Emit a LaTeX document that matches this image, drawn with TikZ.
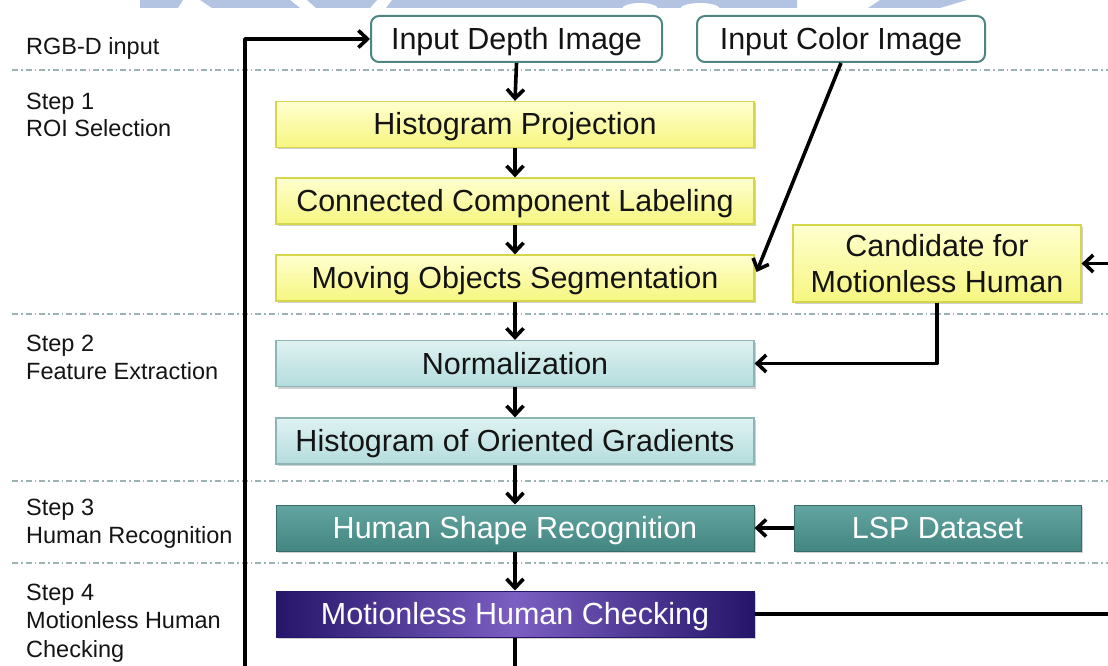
\documentclass[tikz,border=0pt]{standalone}
\usepackage{fontspec}
\setmainfont{Liberation Sans}
\usetikzlibrary{arrows.meta,shadows}

\definecolor{inborder}{HTML}{4E8583}
\definecolor{yelTop}{HTML}{FFFFD0}
\definecolor{yelBot}{HTML}{F6F680}
\definecolor{yelBorder}{HTML}{D6D64C}
\definecolor{cyTop}{HTML}{DFF2F2}
\definecolor{cyBot}{HTML}{B4DCDC}
\definecolor{cyBorder}{HTML}{8DB5B8}
\definecolor{tlTop}{HTML}{63A6A1}
\definecolor{tlBot}{HTML}{438580}
\definecolor{tlBorder}{HTML}{3A6A67}
\definecolor{puDark}{HTML}{25156A}
\definecolor{puLight}{HTML}{7B5FC2}
\definecolor{sepline}{HTML}{9CB2B4}
\definecolor{wmark}{HTML}{B3C3E2}
\definecolor{txt}{HTML}{141414}

\begin{document}
\begin{tikzpicture}[x=1pt,y=-1pt,
  every node/.style={inner sep=0pt},
  lab/.style={anchor=base west, font=\fontsize{23.5}{28}\selectfont, text=txt},
  oneline/.style={text height=24pt, text depth=3pt},
  boxbase/.style={minimum height=46pt, font=\fontsize{30.5}{36.5}\selectfont,
    drop shadow={shadow xshift=1.5pt, shadow yshift=-2pt, opacity=.3, fill=black!60}},
  inbox/.style={draw=inborder, line width=2pt, rounded corners=8pt, fill=white, oneline,
    minimum height=46pt, font=\fontsize{30.5}{36.5}\selectfont, text=txt},
  yelbox/.style={boxbase, draw=yelBorder, line width=1.2pt, top color=yelTop, bottom color=yelBot, text=txt},
  cybox/.style={boxbase, oneline, draw=cyBorder, line width=1.2pt, top color=cyTop, bottom color=cyBot, text=txt},
  tlbox/.style={boxbase, oneline, draw=tlBorder, line width=1pt, top color=tlTop, bottom color=tlBot, text=white},
  pubox/.style={boxbase, oneline, draw=puDark, line width=1pt, left color=puDark, right color=puDark, middle color=puLight, text=white},
  sep/.style={sepline, line width=1.2pt, dash pattern=on 6pt off 3pt on 1.5pt off 3pt},
  arr/.style={line width=3.6pt, black, line join=round,
    -{Straight Barb[length=9pt, width=17pt, line width=3.6pt]}}
]
\useasboundingbox (0,0) rectangle (1108,666);
\fill[white] (0,0) rectangle (1108,666);

% faint band along the top edge
\fill[wmark] (140,0) -- (183,0) -- (178,8) -- (140,8) -- cycle;
\fill[wmark] (200,0) -- (290,0) -- (300,8) -- (212,8) -- cycle;
\fill[wmark] (307,0) -- (377,0) -- (370,8) -- (316,8) -- cycle;
\fill[wmark] (392,0) -- (797,0) -- (797,8) -- (386,8) -- cycle;
\fill[white] (640,9) ellipse (18pt and 6pt);
\fill[white] (700,9) ellipse (20pt and 6pt);
\fill[wmark] (880,0) -- (967,0) -- (940,8) -- (868,8) -- cycle;

% stage separators
\foreach \yy in {70,314,481,563}
  \draw[sep] (12,\yy) -- (1108,\yy);

% stage labels
\node[lab] (l0)  at (26,54.5)  {RGB-D input};
\node[lab] (l1a) at (26,109.5) {Step 1};
\node[lab] (l1b) at (26,137)   {ROI Selection};
\node[lab] (l2a) at (26,351.5) {Step 2};
\node[lab] (l2b) at (26,379.5) {Feature Extraction};
\node[lab] (l3a) at (26,515)   {Step 3};
\node[lab] (l3b) at (26,543)   {Human Recognition};
\node[lab] (l4a) at (26,600)   {Step 4};
\node[lab] (l4b) at (26,628.5) {Motionless Human};
\node[lab] (l4c) at (26,657.5) {Checking};

% inputs
\node[inbox, minimum width=291pt] (depth) at (516.5,39) {Input Depth Image};
\node[inbox, minimum width=288pt] (color) at (841,39)   {Input Color Image};

% processing chain
\node[yelbox, oneline, minimum width=478pt] (hist) at (515,124.5) {Histogram Projection};
\node[yelbox, oneline, minimum width=478pt] (ccl)  at (515,201)   {Connected Component Labeling};
\node[yelbox, oneline, minimum width=478pt] (mos)  at (515,278)   {Moving Objects Segmentation};
\node[yelbox, minimum width=288pt, minimum height=77pt, align=center] (cand) at (937,263.5)
  {Candidate for\\Motionless Human};
\node[cybox, minimum width=478pt] (norm) at (515,363.5) {Normalization};
\node[cybox, minimum width=478pt] (hog)  at (515,441)   {Histogram of Oriented Gradients};
\node[tlbox, minimum width=478pt] (hsr)  at (515,528)   {Human Shape Recognition};
\node[tlbox, minimum width=287pt] (lsp)  at (937.5,528) {LSP Dataset};
\node[pubox, minimum width=478pt] (mhc)  at (515,614)   {Motionless Human Checking};

% loop corners (outside the visible area)
\coordinate (botC) at (515,700);
\coordinate (botL) at (245,700);
\coordinate (rtC)  at (1115,614);

% connectors
\draw[arr] (depth.south) -- (hist.north);
\draw[arr] (hist.south) -- (ccl.north);
\draw[arr] (ccl.south) -- (mos.north);
\draw[arr] (mos.south) -- (norm.north);
\draw[arr] (norm.south) -- (hog.north);
\draw[arr] (hog.south) -- (hsr.north);
\draw[arr] (hsr.south) -- (mhc.north);
\draw[arr] (color.south) -- ([shift={(2,-6)}]mos.east);
\draw[arr] (cand.south) |- (norm.east);
\draw[arr] (lsp.west) -- (hsr.east);
\draw[arr] (mhc.south) -- (botC) -- (botL) |- (depth.west);
\draw[arr] (mhc.east) -- (rtC) |- (cand.east);
\end{tikzpicture}
\end{document}
